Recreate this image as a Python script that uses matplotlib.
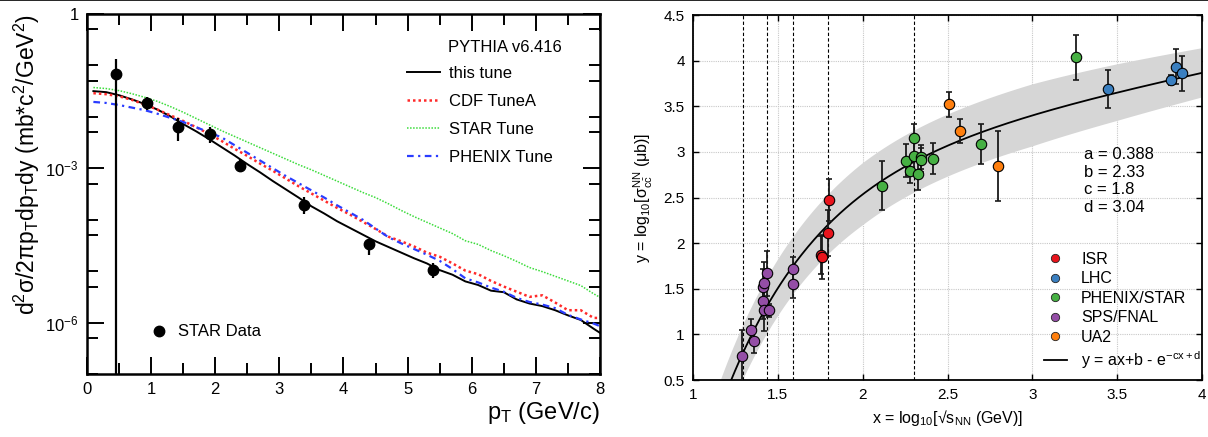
import numpy as np
import matplotlib
matplotlib.use("Agg")
import matplotlib.pyplot as plt
from matplotlib.lines import Line2D
from matplotlib.ticker import FixedLocator, NullFormatter

plt.rcParams['font.family'] = ['Liberation Sans', 'DejaVu Sans']
plt.rcParams['mathtext.fontset'] = 'custom'
plt.rcParams['mathtext.rm'] = 'Liberation Sans'
plt.rcParams['mathtext.it'] = 'Liberation Sans:italic'
plt.rcParams['mathtext.bf'] = 'Liberation Sans:bold'

# ---------------- left panel data (log10 of cross section) ----------------
pt_bins = np.append(np.arange(0.1, 8.0, 0.2), 8.0)

this_tune = [-1.50, -1.52, -1.58, -1.66, -1.75, -1.86, -1.99, -2.14, -2.28, -2.43,
             -2.59, -2.75, -2.92, -3.08, -3.25, -3.41, -3.57, -3.74, -3.88, -4.03,
             -4.16, -4.29, -4.42, -4.53, -4.64, -4.75, -4.85, -4.98, -5.07, -5.20,
             -5.27, -5.38, -5.41, -5.55, -5.63, -5.68, -5.76, -5.86, -5.95, -6.12, -6.20]
cdf_tunea = [-1.54, -1.56, -1.60, -1.67, -1.76, -1.86, -1.97, -2.08, -2.20, -2.33,
             -2.47, -2.62, -2.76, -2.91, -3.05, -3.20, -3.35, -3.49, -3.63, -3.77,
             -3.90, -4.04, -4.18, -4.33, -4.42, -4.52, -4.64, -4.72, -4.85, -4.99,
             -5.06, -5.19, -5.30, -5.40, -5.50, -5.47, -5.61, -5.76, -5.76, -5.91, -5.91]
star_tune = [-1.43, -1.45, -1.49, -1.55, -1.62, -1.70, -1.80, -1.91, -2.03, -2.15,
             -2.27, -2.38, -2.49, -2.60, -2.71, -2.82, -2.93, -3.03, -3.14, -3.25,
             -3.36, -3.47, -3.57, -3.69, -3.82, -3.94, -4.05, -4.16, -4.27, -4.41,
             -4.48, -4.60, -4.70, -4.81, -4.93, -5.01, -5.10, -5.19, -5.28, -5.44, -5.51]
phenix_tune = [-1.71, -1.73, -1.77, -1.82, -1.87, -1.94, -2.02, -2.10, -2.20, -2.30,
               -2.40, -2.55, -2.70, -2.85, -3.00, -3.15, -3.29, -3.43, -3.57, -3.72,
               -3.86, -4.00, -4.17, -4.34, -4.46, -4.57, -4.68, -4.80, -4.96, -5.14,
               -5.22, -5.32, -5.40, -5.52, -5.60, -5.65, -5.72, -5.85, -5.94, -6.02, -6.07]

star_pt = [0.45, 0.94, 1.42, 1.92, 2.39, 3.39, 4.40, 5.40]
star_y = [-1.17, -1.735, -2.20, -2.335, -2.96, -3.72, -4.48, -4.97]
star_up = [-0.87, -1.62, -2.03, -2.20, -2.82, -3.55, -4.37, -4.85]
star_lo = [-8.0, -1.87, -2.47, -2.51, -3.07, -3.88, -4.69, -5.14]

# ---------------- right panel data ----------------
isr_x = [1.755, 1.760, 1.797, 1.800]
isr_y = [1.870, 1.845, 2.110, 2.470]
isr_e = [0.21, 0.24, 0.25, 0.23]

lhc_x = [3.446, 3.817, 3.848, 3.880]
lhc_y = [3.686, 3.788, 3.934, 3.860]
lhc_e = [0.21, 0.05, 0.19, 0.19]

phx_x = [2.116, 2.255, 2.279, 2.300, 2.300, 2.324, 2.344, 2.344, 2.416, 2.697, 3.257]
phx_y = [2.629, 2.903, 2.794, 3.150, 2.955, 2.757, 2.947, 2.910, 2.925, 3.086, 4.036]
phx_e = [0.27, 0.18, 0.14, 0.16, 0.15, 0.17, 0.13, 0.13, 0.17, 0.22, 0.25]

sps_x = [1.289, 1.341, 1.361, 1.410, 1.416, 1.414, 1.418, 1.438, 1.446, 1.591, 1.591]
sps_y = [0.765, 1.043, 0.926, 1.518, 1.568, 1.366, 1.272, 1.669, 1.262, 1.715, 1.552]
sps_e = [0.28, 0.13, 0.13, 0.20, 0.22, 0.20, 0.24, 0.25, 0.07, 0.13, 0.15]

ua2_x = [2.509, 2.575, 2.800]
ua2_y = [3.520, 3.232, 2.845]
ua2_e = [0.14, 0.13, 0.38]

# fit parameters shown on the chart
fit_a, fit_b, fit_c, fit_d = 0.388, 2.33, 1.8, 3.04
# half-width of the grey uncertainty band, read at a few x
band_x = [1.0, 1.5, 2.0, 2.5, 3.0, 3.5, 4.0]
band_w = [0.28, 0.31, 0.34, 0.34, 0.34, 0.31, 0.27]

# sqrt(s) energies marked by dashed lines
vline_x = [1.292, 1.435, 1.591, 1.795, 2.301]

fig = plt.figure(figsize=(12.08, 4.37), dpi=100)
fig.add_artist(Line2D([0, 1], [0.999, 0.999], color='black', lw=1.2, transform=fig.transFigure))

# =============== left panel ===============
ax1 = fig.add_axes([0.0720, 0.1442, 0.4247, 0.8238])
ax1.set_yscale('log')

ax1.plot(pt_bins, 10 ** np.array(this_tune), color='black', lw=1.4, label='this tune')
ax1.plot(pt_bins, 10 ** np.array(cdf_tunea), color='#ff2a2a', lw=1.8, ls=(0, (1, 1.2)), label='CDF TuneA')
ax1.plot(pt_bins, 10 ** np.array(star_tune), color='#3cdc3c', lw=1.1, ls=(0, (1, 1)), label='STAR Tune')
ax1.plot(pt_bins, 10 ** np.array(phenix_tune), color='#2a3cff', lw=1.6, ls=(0, (3, 2, 1, 2)), label='PHENIX Tune')

sy = 10 ** np.array(star_y)
yerr = [sy - 10 ** np.array(star_lo), 10 ** np.array(star_up) - sy]
ax1.errorbar(star_pt, sy, yerr=yerr, fmt='none', ecolor='black', elinewidth=1.6, capsize=0)
star_pts, = ax1.plot(star_pt, sy, 'o', color='black', ms=7.5, label='STAR Data')

ax1.set_xlim(0, 8)
ax1.set_ylim(1e-7, 1)

ax1.yaxis.set_major_locator(FixedLocator([1e-6, 1e-3, 1.0]))
ax1.set_yticklabels(['$10^{-6}$', '$10^{-3}$', '1'])
minor_y = [m * 10.0 ** k for k in range(-7, 0) for m in (1, 5)]
ax1.yaxis.set_minor_locator(FixedLocator(minor_y))
ax1.yaxis.set_minor_formatter(NullFormatter())
ax1.set_xticks(range(0, 9))
ax1.set_xticks(np.arange(0.5, 8, 1.0), minor=True)

ax1.tick_params(which='both', direction='in', top=True, right=True, width=1.4, labelsize=12)
ax1.tick_params(which='major', length=12, pad=6)
ax1.tick_params(which='minor', length=8)
for s in ax1.spines.values():
    s.set_linewidth(1.8)

ax1.set_xlabel(r'p$_{\mathrm{T}}$ (GeV/c)', fontsize=17, loc='right', labelpad=2)
ax1.set_ylabel(r'd$^{2}$σ/2πp$_{\mathrm{T}}$dp$_{\mathrm{T}}$dy (mb*c$^{2}$/GeV$^{2}$)',
               fontsize=16.5, loc='top', labelpad=2)

h = ax1.get_legend_handles_labels()
leg1 = ax1.legend(h[0][:4], h[1][:4], loc='upper left', bbox_to_anchor=(0.624, 0.855),
                  frameon=False, fontsize=12, handlelength=2.0, handletextpad=0.5,
                  labelspacing=0.78, borderpad=0, borderaxespad=0)
ax1.add_artist(leg1)
ax1.text(0.704, 0.906, 'PYTHIA v6.416', transform=ax1.transAxes, fontsize=12, va='center', ha='left')
ax1.legend([star_pts], ['STAR Data'], loc='center left', bbox_to_anchor=(0.125, 0.117),
           frameon=False, fontsize=12, handlelength=1.0, handletextpad=0.6, borderpad=0,
           borderaxespad=0)

# =============== right panel ===============
ax2 = fig.add_axes([0.5737, 0.1304, 0.4214, 0.8352])
ax2.set_xlim(1, 4)
ax2.set_ylim(0.5, 4.5)
ax2.grid(True, color='#c8c8c8', ls=(0, (1, 1)), lw=0.8)
ax2.set_axisbelow(True)

xf = np.linspace(1.0, 4.0, 400)
yf = fit_a * xf + fit_b - np.exp(-fit_c * xf + fit_d)
wf = np.interp(xf, band_x, band_w)
ax2.fill_between(xf, yf - wf, yf + wf, color='#d6d6d6', lw=0, zorder=1)

for xv in vline_x:
    ax2.axvline(xv, color='black', lw=0.8, ls=(0, (3, 2)), zorder=2)

fit_line, = ax2.plot(xf, yf, color='black', lw=1.3, zorder=3,
                     label=r'y = ax+b - e$^{\mathrm{-cx+d}}$')

groups = [
    ('ISR', isr_x, isr_y, isr_e, '#e8141c'),
    ('LHC', lhc_x, lhc_y, lhc_e, '#3a7fc0'),
    ('PHENIX/STAR', phx_x, phx_y, phx_e, '#46b043'),
    ('SPS/FNAL', sps_x, sps_y, sps_e, '#944ea6'),
    ('UA2', ua2_x, ua2_y, ua2_e, '#ff7f0e'),
]
handles = []
for name, gx, gy, ge, col in groups:
    ax2.errorbar(gx, gy, yerr=ge, fmt='none', ecolor='#1a1a1a', elinewidth=1.3, capsize=2.5,
                 capthick=1.2, zorder=4)
    ax2.plot(gx, gy, 'o', color=col, mec='black', mew=0.8, ms=7.5, zorder=5)
    handles.append(Line2D([], [], marker='o', ls='none', color=col, mec='#222222', mew=0.6, ms=6,
                          label=name))
handles.append(fit_line)

ax2.legend(handles=handles, loc='lower left', bbox_to_anchor=(0.69, 0.025), frameon=False,
           fontsize=11.5, handlelength=1.4, handletextpad=0.9, labelspacing=0.28,
           borderpad=0, borderaxespad=0)

for i, s in enumerate(['a = 0.388', 'b = 2.33', 'c = 1.8', 'd = 3.04']):
    ax2.text(0.768, 0.618 - i * 0.0485, s, transform=ax2.transAxes, fontsize=12, va='center')

ax2.set_xticks([1, 1.5, 2, 2.5, 3, 3.5, 4])
ax2.set_xticklabels(['1', '1.5', '2', '2.5', '3', '3.5', '4'])
ax2.set_yticks([0.5, 1, 1.5, 2, 2.5, 3, 3.5, 4, 4.5])
ax2.set_yticklabels(['0.5', '1', '1.5', '2', '2.5', '3', '3.5', '4', '4.5'])
ax2.tick_params(direction='in', top=True, right=True, length=4, width=1.0, labelsize=11, pad=6)
for s in ax2.spines.values():
    s.set_linewidth(1.3)

ax2.set_xlabel(r'x = log$_{10}$[√s$_{\mathrm{NN}}$ (GeV)]', fontsize=11.5, labelpad=4)
ax2.set_ylabel(r'y = log$_{10}$[σ$^{\mathrm{NN}}_{\mathrm{c\bar{c}}}$ (μb)]', fontsize=11.5, labelpad=6)

fig.savefig('out.png', dpi=100)
